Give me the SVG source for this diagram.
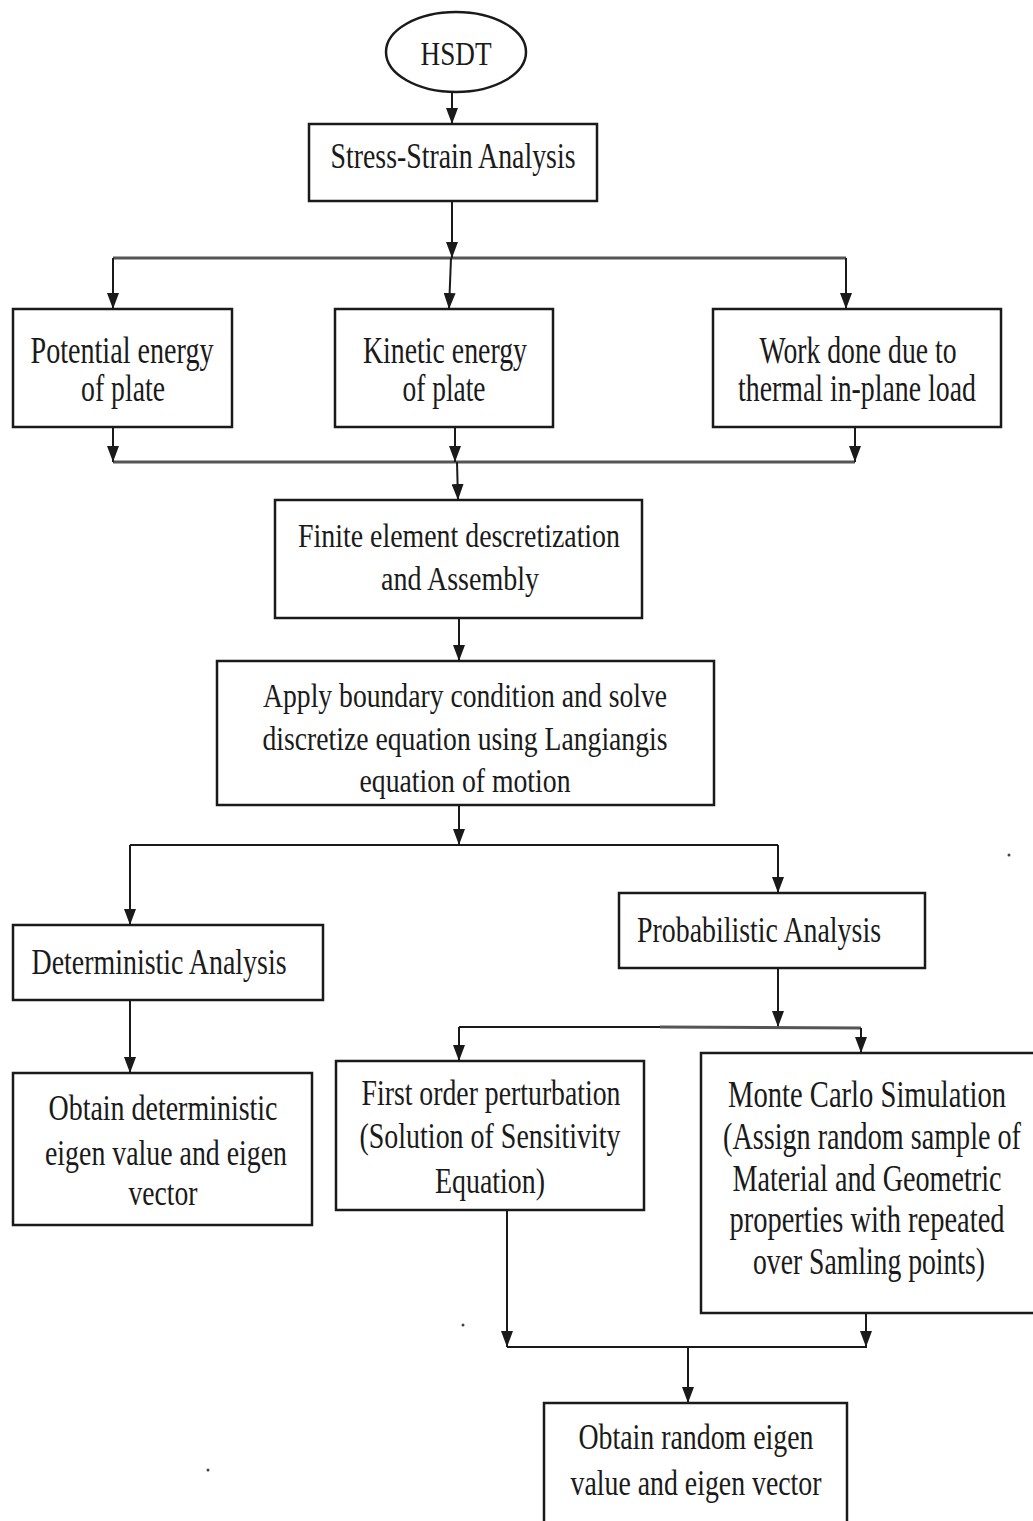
<svg xmlns="http://www.w3.org/2000/svg" width="1033" height="1521" viewBox="0 0 1033 1521">
<style>
.box{fill:#fff;stroke:#1a1a1a;stroke-width:2.5}
.t{font-family:"Liberation Serif","Times New Roman",serif;fill:#1a1a1a;text-anchor:middle}
.s34{font-size:34px}.s36{font-size:36px}.s38{font-size:38px}
.c{fill:none;stroke:#1a1a1a;stroke-width:2}
.g{fill:none;stroke:#555;stroke-width:3}
.a{marker-end:url(#arr)}
</style>
<defs>
<marker id="arr" viewBox="0 0 16 12" refX="16" refY="6" markerWidth="16" markerHeight="12" markerUnits="userSpaceOnUse" orient="auto">
<path d="M0,0 L16,6 L0,12 z" fill="#1a1a1a"/>
</marker>
</defs>
<rect width="1033" height="1521" fill="#fff"/>

<g id="connectors">
<line class="c a" x1="452" y1="92" x2="452" y2="124"/>
<line class="g" x1="113" y1="258" x2="846" y2="258"/>
<line class="c a" x1="452" y1="201" x2="452" y2="258"/>
<line class="c a" x1="451" y1="258" x2="449" y2="309"/>
<line class="c a" x1="113" y1="258" x2="113" y2="309"/>
<line class="c a" x1="846" y1="258" x2="846" y2="309"/>

<line class="g" x1="113" y1="462" x2="855" y2="462"/>
<line class="c a" x1="113" y1="427" x2="113" y2="462"/>
<line class="c a" x1="455" y1="427" x2="455" y2="462"/>
<line class="c a" x1="855" y1="427" x2="855" y2="462"/>
<line class="c a" x1="457" y1="462" x2="458" y2="500"/>

<line class="c a" x1="459" y1="618" x2="459" y2="661"/>

<line class="c a" x1="459" y1="805" x2="459" y2="845"/>
<line class="c" x1="130" y1="845" x2="778" y2="845"/>
<line class="c a" x1="130" y1="845" x2="130" y2="925"/>
<line class="c a" x1="778" y1="845" x2="778" y2="893"/>

<line class="c a" x1="130" y1="1000" x2="130" y2="1073"/>

<line class="c a" x1="778" y1="968" x2="778" y2="1027"/>
<line class="c" x1="459" y1="1027" x2="660" y2="1027"/>
<line class="g" x1="660" y1="1027" x2="861" y2="1028"/>
<line class="c a" x1="459" y1="1027" x2="459" y2="1061"/>
<line class="c a" x1="861" y1="1028" x2="861" y2="1053"/>

<line class="c a" x1="507" y1="1210" x2="507" y2="1347"/>
<line class="c a" x1="866" y1="1313" x2="866" y2="1347"/>
<line class="c" x1="507" y1="1347" x2="867" y2="1347"/>
<line class="c a" x1="688" y1="1347" x2="688" y2="1403"/>
</g>

<g id="hsdt">
<ellipse class="box" cx="456" cy="52" rx="70" ry="40"/>
<text class="t" style="font-size:33px" x="456" y="65" textLength="71" lengthAdjust="spacingAndGlyphs">HSDT</text>
</g>

<g id="stress-strain">
<rect class="box" x="309" y="124" width="288" height="77"/>
<text class="t s36" x="453" y="168" textLength="245" lengthAdjust="spacingAndGlyphs">Stress-Strain Analysis</text>
</g>

<g id="potential">
<rect class="box" x="13" y="309" width="219" height="118"/>
<text class="t s38" x="122" y="363" textLength="183" lengthAdjust="spacingAndGlyphs">Potential energy</text>
<text class="t s38" x="123" y="401" textLength="84" lengthAdjust="spacingAndGlyphs">of plate</text>
</g>

<g id="kinetic">
<rect class="box" x="335" y="309" width="218" height="118"/>
<text class="t s38" x="445" y="363" textLength="164" lengthAdjust="spacingAndGlyphs">Kinetic energy</text>
<text class="t s38" x="444" y="401" textLength="83" lengthAdjust="spacingAndGlyphs">of plate</text>
</g>

<g id="work">
<rect class="box" x="713" y="309" width="288" height="118"/>
<text class="t s38" x="858" y="363" textLength="197" lengthAdjust="spacingAndGlyphs">Work done due to</text>
<text class="t s38" x="857" y="401" textLength="238" lengthAdjust="spacingAndGlyphs">thermal in-plane load</text>
</g>

<g id="finite-element">
<rect class="box" x="275" y="500" width="367" height="118"/>
<text class="t s34" x="459" y="547" textLength="322" lengthAdjust="spacingAndGlyphs">Finite element descretization</text>
<text class="t s34" x="460" y="590" textLength="158" lengthAdjust="spacingAndGlyphs">and Assembly</text>
</g>

<g id="apply-boundary">
<rect class="box" x="217" y="661" width="497" height="144"/>
<text class="t s34" x="465" y="707" textLength="404" lengthAdjust="spacingAndGlyphs">Apply boundary condition and solve</text>
<text class="t s34" x="465" y="750" textLength="405" lengthAdjust="spacingAndGlyphs">discretize equation using Langiangis</text>
<text class="t s34" x="465" y="792" textLength="211" lengthAdjust="spacingAndGlyphs">equation of motion</text>
</g>

<g id="deterministic">
<rect class="box" x="13" y="925" width="310" height="75"/>
<text class="t s36" x="159" y="974" textLength="255" lengthAdjust="spacingAndGlyphs">Deterministic Analysis</text>
</g>

<g id="probabilistic">
<rect class="box" x="619" y="893" width="306" height="75"/>
<text class="t s36" x="759" y="942" textLength="244" lengthAdjust="spacingAndGlyphs">Probabilistic Analysis</text>
</g>

<g id="obtain-deterministic">
<rect class="box" x="13" y="1073" width="299" height="152"/>
<text class="t s36" x="163" y="1120" textLength="229" lengthAdjust="spacingAndGlyphs">Obtain deterministic</text>
<text class="t s36" x="166" y="1165" textLength="242" lengthAdjust="spacingAndGlyphs">eigen value and eigen</text>
<text class="t s36" x="163" y="1205" textLength="69" lengthAdjust="spacingAndGlyphs">vector</text>
</g>

<g id="first-order">
<rect class="box" x="336" y="1061" width="308" height="149"/>
<text class="t s36" x="491" y="1105" textLength="259" lengthAdjust="spacingAndGlyphs">First order perturbation</text>
<text class="t s36" x="490" y="1148" textLength="261" lengthAdjust="spacingAndGlyphs">(Solution of Sensitivity</text>
<text class="t s36" x="490" y="1193" textLength="110" lengthAdjust="spacingAndGlyphs">Equation)</text>
</g>

<g id="monte-carlo">
<rect class="box" x="701" y="1053" width="345" height="260"/>
<text class="t s38" x="867" y="1107" textLength="278" lengthAdjust="spacingAndGlyphs">Monte Carlo Simulation</text>
<text class="t s38" x="872" y="1149" textLength="298" lengthAdjust="spacingAndGlyphs">(Assign random sample of</text>
<text class="t s38" x="867" y="1191" textLength="269" lengthAdjust="spacingAndGlyphs">Material and Geometric</text>
<text class="t s38" x="867" y="1232" textLength="275" lengthAdjust="spacingAndGlyphs">properties with repeated</text>
<text class="t s38" x="869" y="1274" textLength="232" lengthAdjust="spacingAndGlyphs">over Samling points)</text>
</g>

<g id="obtain-random">
<rect class="box" x="544" y="1403" width="303" height="125"/>
<text class="t s36" x="696" y="1449" textLength="235" lengthAdjust="spacingAndGlyphs">Obtain random eigen</text>
<text class="t s36" x="696" y="1495" textLength="251" lengthAdjust="spacingAndGlyphs">value and eigen vector</text>
</g>

<g id="specks" fill="#444">
<circle cx="1009" cy="855" r="1.5"/>
<circle cx="463" cy="1325" r="1.5"/>
<circle cx="208" cy="1470" r="1.5"/>
</g>
</svg>
